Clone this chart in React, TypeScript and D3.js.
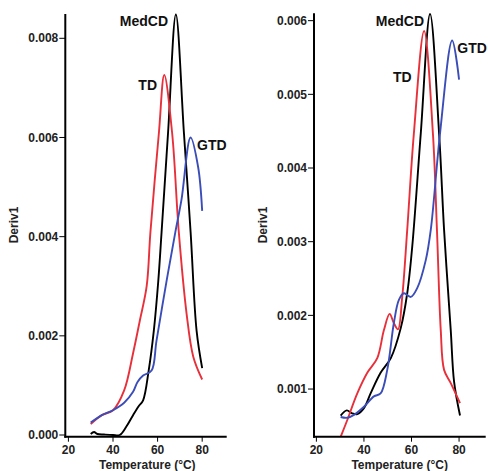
import React from "react";
import * as d3 from "d3";

// ---------- data ----------
const xTicks = [20, 40, 60, 80];
const leftYTicks = [0, 0.002, 0.004, 0.006, 0.008];
const rightYTicks = [0.001, 0.002, 0.003, 0.004, 0.005, 0.006];
const seriesNames = ["MedCD", "TD", "GTD"];

// Left panel
const leftMedT = [30, 31.5, 33, 36, 40, 43, 46, 49, 51.5, 53.5, 56, 58.3, 60.3, 61.8, 64.7, 68.2, 71.8, 74.8, 77.5, 80];
const leftMedV = [0.00002, 0.00006, 0.00002, 0.00001, 0.0, 0.0, 0.00017, 0.0004, 0.00058, 0.0007, 0.0013, 0.0021, 0.0031, 0.0041, 0.0061, 0.00848, 0.0061, 0.0041, 0.0021, 0.00135];
const leftTdT = [30, 35, 40, 45, 49, 52, 55.1, 56.8, 60.6, 63, 66.5, 69.5, 73, 76, 80];
const leftTdV = [0.00022, 0.0004, 0.0005, 0.0009, 0.00165, 0.0023, 0.003, 0.0041, 0.0061, 0.00726, 0.0061, 0.0041, 0.00245, 0.00158, 0.00112];
const leftGtdT = [30, 35, 40, 45, 49, 51, 53.5, 57.3, 59.5, 64, 68, 70.7, 74.8, 78.2, 80];
const leftGtdV = [0.00025, 0.0004, 0.0005, 0.00065, 0.00087, 0.00107, 0.0012, 0.0013, 0.0019, 0.0031, 0.0041, 0.00474, 0.006, 0.0054, 0.00452];

// Right panel
const rightMedT = [30.2, 32.8, 35, 37.2, 40, 42.8, 47, 51.3, 55.5, 58.2, 60.3, 63.9, 67.8, 71.6, 73.7, 76.5, 77.9, 80.4];
const rightMedV = [0.00064, 0.00071, 0.00067, 0.00066, 0.00074, 0.00094, 0.00122, 0.00142, 0.00183, 0.0023, 0.00293, 0.00447, 0.00609, 0.00447, 0.00316, 0.0018, 0.0011, 0.00064];
const rightTdT = [30.2, 33, 37.2, 41.4, 45.6, 48.4, 50.8, 52.5, 54.3, 56.1, 58.2, 61, 65.3, 69, 70.7, 72.3, 73.7, 76.5, 80.4];
const rightTdV = [0.00035, 0.00058, 0.00094, 0.00122, 0.00142, 0.0018, 0.00202, 0.0019, 0.00181, 0.00225, 0.00316, 0.00447, 0.00586, 0.00447, 0.00316, 0.0018, 0.00126, 0.00108, 0.00081];
const rightGtdT = [30.2, 33, 35.8, 40, 44.2, 47, 49.8, 52.6, 54.7, 56.8, 59.7, 62.4, 66, 68.1, 72, 77.1, 80];
const rightGtdV = [0.00062, 0.00061, 0.00065, 0.00076, 0.0009, 0.00094, 0.00126, 0.0019, 0.00221, 0.0023, 0.00225, 0.00237, 0.00275, 0.00316, 0.00447, 0.00573, 0.0052];

const colors = ["#000000", "#e8303a", "#3a4db8"];
const FONT = "'Liberation Sans', Arial, Helvetica, sans-serif";

type LabelPos = { x: number; y: number; anchor: string };

type PanelProps = {
  id: string;
  xDomain: [number, number];
  xRange: [number, number];
  yDomain: [number, number];
  yRange: [number, number];
  yTicks: number[];
  series: { t: number[]; v: number[] }[];
  labels: LabelPos[];
  yTitleX: number;
};

function Panel(p: PanelProps) {
  const x = d3.scaleLinear().domain(p.xDomain).range(p.xRange);
  const y = d3.scaleLinear().domain(p.yDomain).range(p.yRange);
  const x0 = p.xRange[0];
  const yb = p.yRange[0];
  const line = d3
    .line<[number, number]>()
    .x((d) => x(d[0]))
    .y((d) => y(d[1]))
    .curve(d3.curveCatmullRom.alpha(0.5));
  const fmt = d3.format(".3f");
  return (
    <g>
      <defs>
        <clipPath id={p.id}>
          <rect x={x0} y={p.yRange[1] - 2} width={p.xRange[1] - x0} height={yb - p.yRange[1] + 2} />
        </clipPath>
      </defs>
      <g clipPath={`url(#${p.id})`}>
        {p.series.map((s, i) => (
          <path
            key={i}
            d={line(s.t.map((t, j) => [t, s.v[j]] as [number, number])) || ""}
            fill="none"
            stroke={colors[i]}
            strokeWidth={1.9}
            strokeLinejoin="round"
          />
        ))}
      </g>
      {/* axes */}
      <line x1={x0} x2={x0} y1={p.yRange[1]} y2={yb + 1} stroke="#000" strokeWidth={2} />
      <line x1={x0 - 1} x2={p.xRange[1]} y1={yb} y2={yb} stroke="#000" strokeWidth={2} />
      {p.yTicks.map((t) => (
        <g key={t}>
          <line x1={x0 - 6} x2={x0} y1={y(t)} y2={y(t)} stroke="#000" strokeWidth={1} />
          <text
            x={x0 - 7}
            y={y(t)}
            dy="0.35em"
            textAnchor="end"
            fontSize={12}
            fontWeight="bold"
            fontFamily={FONT}
            fill="#222"
          >
            {fmt(t)}
          </text>
        </g>
      ))}
      {xTicks.map((t) => (
        <g key={t}>
          <line x1={x(t)} x2={x(t)} y1={yb} y2={yb + 5} stroke="#000" strokeWidth={1} />
          <text
            x={x(t)}
            y={453.5}
            textAnchor="middle"
            fontSize={12}
            fontWeight="bold"
            fontFamily={FONT}
            fill="#222"
          >
            {t}
          </text>
        </g>
      ))}
      <text
        x={(x(20) + x(80)) / 2 + 12}
        y={469}
        textAnchor="middle"
        fontSize={12}
        fontWeight="bold"
        fontFamily={FONT}
        fill="#222"
      >
        Temperature (°C)
      </text>
      <text
        transform={`translate(${p.yTitleX},225) rotate(-90)`}
        textAnchor="middle"
        fontSize={12}
        fontWeight="bold"
        fontFamily={FONT}
        fill="#222"
      >
        Deriv1
      </text>
      {p.labels.map((l, i) => (
        <text
          key={i}
          x={l.x}
          y={l.y}
          textAnchor={l.anchor}
          fontSize={14}
          fontWeight="bold"
          fontFamily={FONT}
          fill="#111"
        >
          {seriesNames[i]}
        </text>
      ))}
    </g>
  );
}

export default function App() {
  return (
    <svg
      width={488}
      height={471}
      style={{ position: "absolute", left: 0, top: 0, background: "#fff" }}
    >
      <rect width={488} height={471} fill="#fff" />
      <Panel
        id="clipL"
        xDomain={[18.6, 91]}
        xRange={[65.3, 226.7]}
        yDomain={[-0.000034, 0.00849]}
        yRange={[436.7, 14]}
        yTicks={leftYTicks}
        series={[
          { t: leftMedT, v: leftMedV },
          { t: leftTdT, v: leftTdV },
          { t: leftGtdT, v: leftGtdV },
        ]}
        labels={[
          { x: 168, y: 26, anchor: "end" },
          { x: 157, y: 90, anchor: "end" },
          { x: 197, y: 150, anchor: "start" },
        ]}
        yTitleX={18}
      />
      <Panel
        id="clipR"
        xDomain={[19, 91.2]}
        xRange={[314, 485.7]}
        yDomain={[0.000353, 0.0061]}
        yRange={[436.7, 13.3]}
        yTicks={rightYTicks}
        series={[
          { t: rightMedT, v: rightMedV },
          { t: rightTdT, v: rightTdV },
          { t: rightGtdT, v: rightGtdV },
        ]}
        labels={[
          { x: 424, y: 25.5, anchor: "end" },
          { x: 411.7, y: 82, anchor: "end" },
          { x: 457.3, y: 53, anchor: "start" },
        ]}
        yTitleX={267}
      />
    </svg>
  );
}
